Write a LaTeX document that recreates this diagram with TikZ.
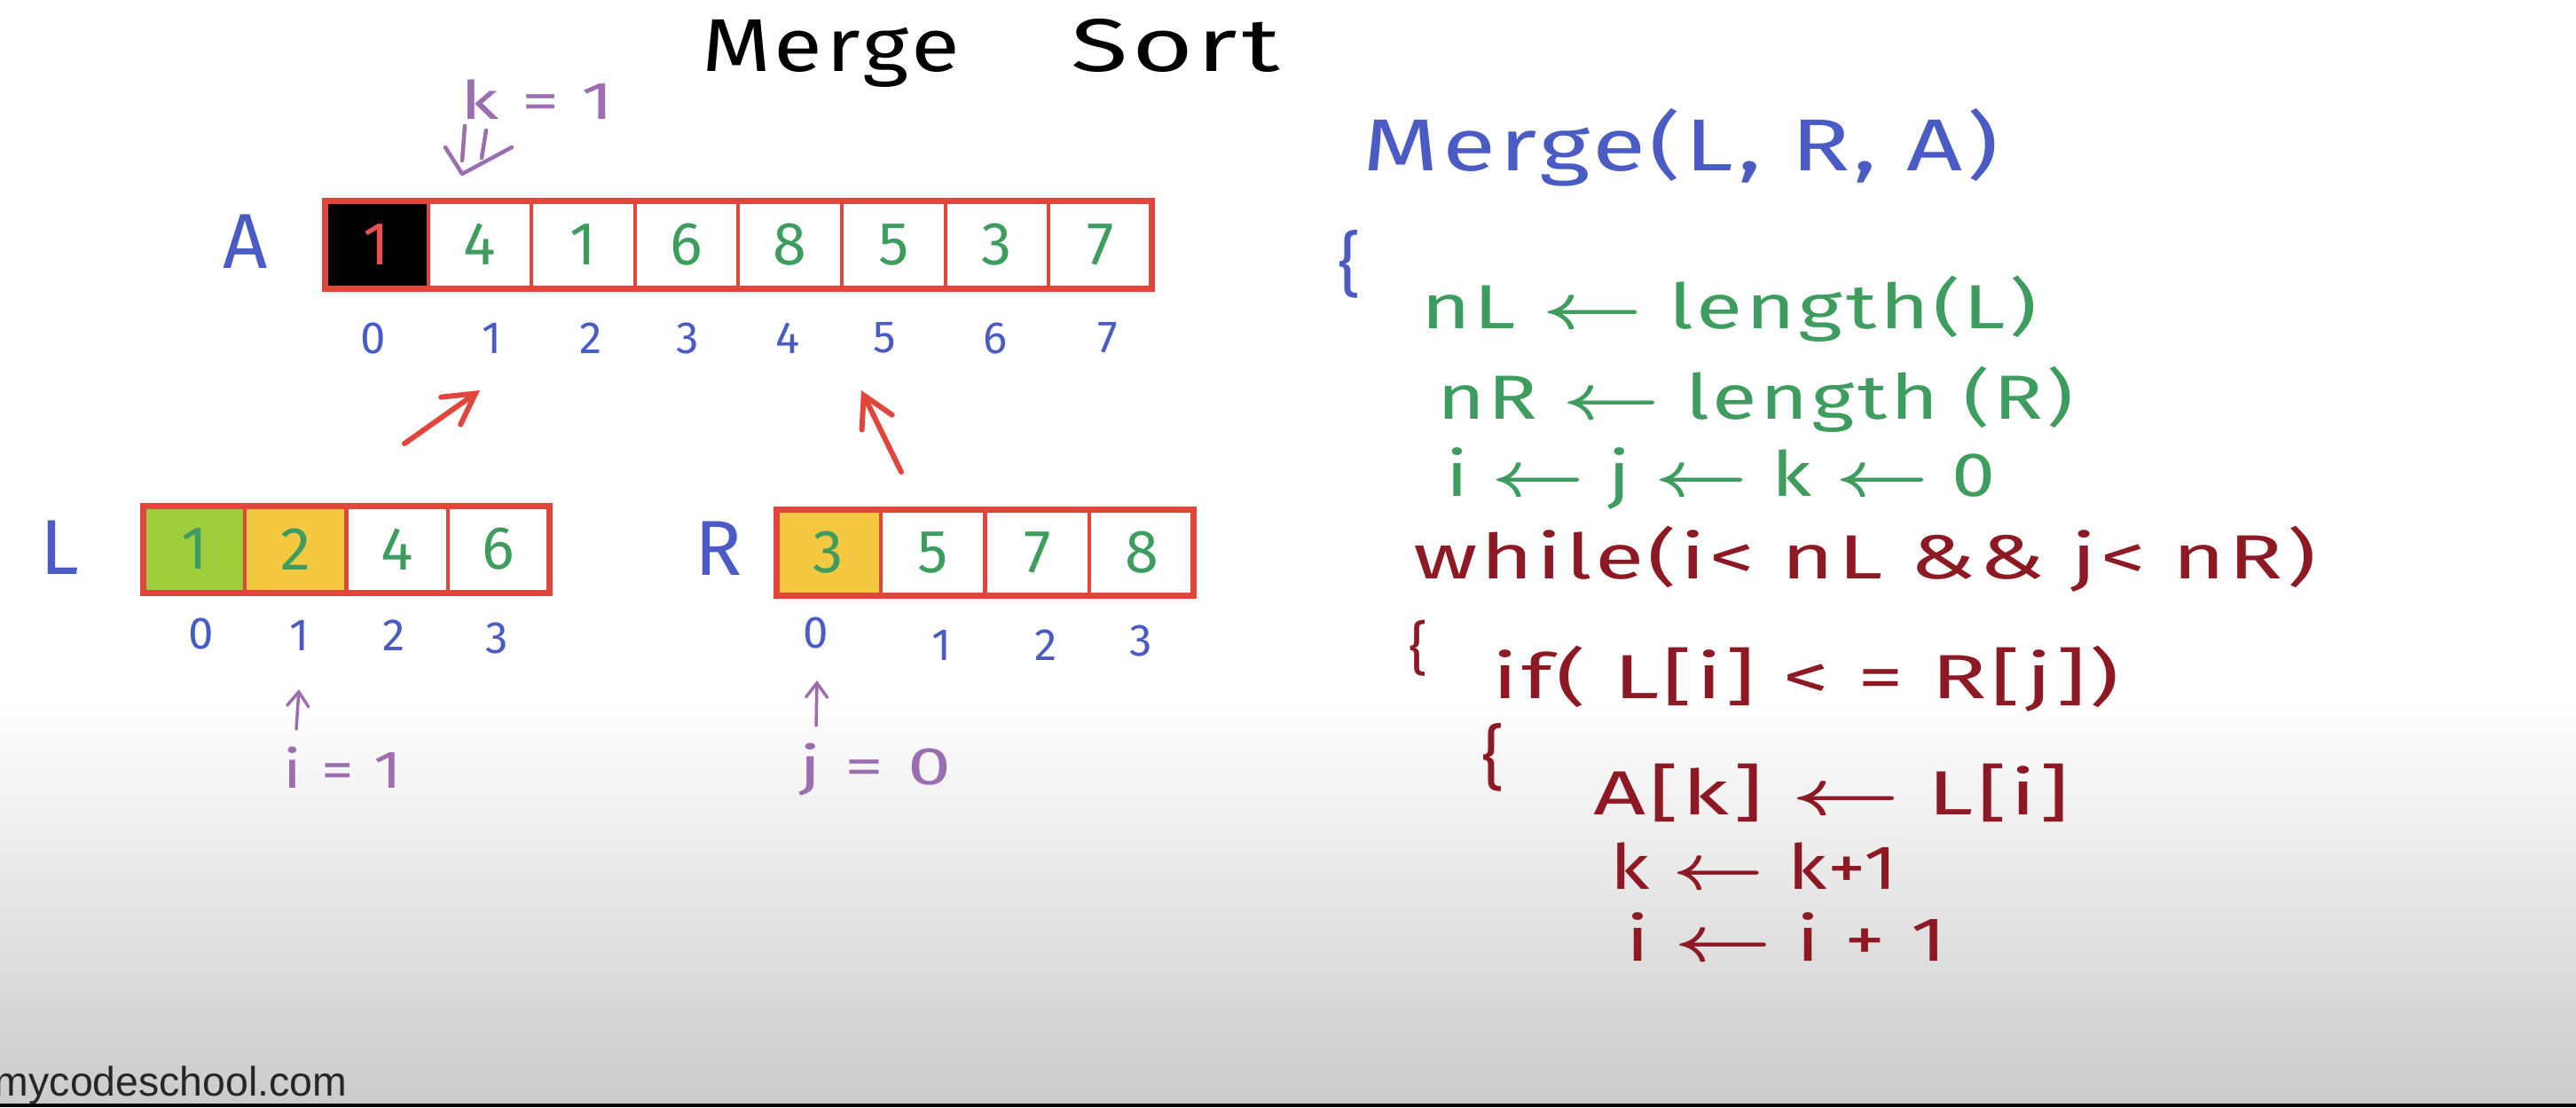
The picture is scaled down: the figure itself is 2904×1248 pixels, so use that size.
\documentclass[tikz,border=0pt]{standalone}
\usepackage{amsmath}
\usepackage{fontspec}
\usepackage{graphicx}
\usetikzlibrary{arrows.meta}
\setmainfont{Fira Sans}
\newfontfamily\hand{Fira Sans}[LetterSpace=4]
\newfontfamily\webfont{Liberation Sans}
\definecolor{cblue}{HTML}{4A5BC4}
\definecolor{cgreen}{HTML}{3E9C5E}
\definecolor{cred}{HTML}{E1463C}
\definecolor{cdred}{HTML}{8C1923}
\definecolor{cpurple}{HTML}{9B6EAF}
\definecolor{cyg}{HTML}{A0CD3C}
\definecolor{cyel}{HTML}{F5C841}
\definecolor{cone}{HTML}{E65050}
\definecolor{bggray}{HTML}{CBCBCB}
\newcommand\hwfit[2]{\resizebox{#1}{\height}{#2}}
\newcommand\larr{$\boldsymbol{\leftarrow}$}
\tikzset{
  hnode/.style={inner sep=0pt, outer sep=0pt},
  codeline/.style={hnode, anchor=base west, font=\hand\fontsize{20}{24}\selectfont},
  titlefont/.style={hnode, anchor=base west, font=\hand\fontsize{24}{28}\selectfont, text=black},
  cellbase/.style={draw=cred, line width=0.4mm, inner sep=0pt, outer sep=0pt,
    font=\hand\fontsize{19.5}{22}\selectfont, text=cgreen},
  cellA/.style={cellbase, minimum width=11.66mm, minimum height=9.9mm},
  cellL/.style={cellbase, minimum width=11.425mm, minimum height=9.8mm},
  cellR/.style={cellbase, minimum width=11.775mm, minimum height=9.7mm},
  frame/.style={draw=cred, line width=0.7mm},
  idx/.style={hnode, font=\hand\fontsize{14.5}{16}\selectfont, text=cblue},
  lbl/.style={hnode, font=\hand\fontsize{25}{28}\selectfont, text=cblue},
  ptr/.style={hnode, font=\hand\fontsize{17}{20}\selectfont, text=cpurple},
  bracenode/.style={hnode, font=\hand\fontsize{22.5}{26}\selectfont},
  redarrow/.style={draw=cred, line width=0.6mm, line cap=round,
    -{Straight Barb[length=3.4mm,width=3.8mm,line cap=round]}},
  purarrow/.style={draw=cpurple, line width=0.35mm, line cap=round,
    -{Straight Barb[length=1.6mm,width=2.4mm,line cap=round]}},
  purstroke/.style={draw=cpurple, line width=0.45mm, line cap=round, line join=round},
}
\begin{document}
\begin{tikzpicture}[x=0.1mm,y=-0.1mm]
\useasboundingbox (0,0) rectangle (2904,1248);
% background
\fill[white] (0,0) rectangle (2904,790);
\shade[top color=white, bottom color=bggray] (0,789) rectangle (2904,1244);
\fill[black] (0,1244) rectangle (2904,1248);

% title
\node[titlefont] (t1) at (791,80) {\hwfit{29.1mm}{Merge}};
\node[titlefont] (t2) at (1207,80) {\hwfit{23.6mm}{Sort}};

% k = 1 and double arrow
\node[ptr] (kval) at (606,112) {\hwfit{17.3mm}{k = 1}};
\coordinate (ks1a) at (524,142); \coordinate (ks1b) at (521,181);
\coordinate (ks2a) at (548,147); \coordinate (ks2b) at (543,178);
\coordinate (kh1) at (502,166); \coordinate (kh2) at (521,196); \coordinate (kh3) at (577,166);
\draw[purstroke] (ks1a) -- (ks1b);
\draw[purstroke] (ks2a) -- (ks2b);
\draw[purstroke] (kh1) -- (kh2) -- (kh3);

% array A
\node[lbl] (labA) at (277,272) {A};
\node[cellA, fill=black, text=cone] (a0) at (424.3,275.5) {1};
\node[cellA] (a1) at (540.9,275.5) {4};
\node[cellA] (a2) at (657.5,275.5) {1};
\node[cellA] (a3) at (774.1,275.5) {6};
\node[cellA] (a4) at (890.7,275.5) {8};
\node[cellA] (a5) at (1007.3,275.5) {5};
\node[cellA] (a6) at (1123.9,275.5) {3};
\node[cellA] (a7) at (1240.5,275.5) {7};
\draw[frame] (a0.north west) rectangle (a7.south east);
\node[idx] (ai0) at (421,381) {0};
\node[idx] (ai1) at (555,381) {1};
\node[idx] (ai2) at (666,381) {2};
\node[idx] (ai3) at (775,381) {3};
\node[idx] (ai4) at (888,381) {4};
\node[idx] (ai5) at (997,381) {5};
\node[idx] (ai6) at (1122,381) {6};
\node[idx] (ai7) at (1249,381) {7};

% red arrows
\coordinate (la1) at (456,500); \coordinate (la2) at (541,440);
\coordinate (ra1) at (1016,532); \coordinate (ra2) at (971,440);
\draw[redarrow] (la1) -- (la2);
\draw[redarrow] (ra1) -- (ra2);

% array L
\node[lbl] (labL) at (67,617) {L};
\node[cellL, fill=cyg] (l0) at (219.1,619) {1};
\node[cellL, fill=cyel] (l1) at (333.4,619) {2};
\node[cellL] (l2) at (447.6,619) {4};
\node[cellL] (l3) at (561.9,619) {6};
\draw[frame] (l0.north west) rectangle (l3.south east);
\node[idx] (li0) at (227,714) {0};
\node[idx] (li1) at (338,716) {1};
\node[idx] (li2) at (444,716) {2};
\node[idx] (li3) at (560,719) {3};

% array R
\node[lbl] (labR) at (810,618) {R};
\node[cellR, fill=cyel] (r0) at (933.9,622.5) {3};
\node[cellR] (r1) at (1051.6,622.5) {5};
\node[cellR] (r2) at (1169.4,622.5) {7};
\node[cellR] (r3) at (1287.1,622.5) {8};
\draw[frame] (r0.north west) rectangle (r3.south east);
\node[idx] (ri0) at (920,713) {0};
\node[idx] (ri1) at (1062,727) {1};
\node[idx] (ri2) at (1179,727) {2};
\node[idx] (ri3) at (1286,722) {3};

% pointers i and j
\coordinate (pi1) at (334,822); \coordinate (pi2) at (337,777);
\coordinate (pj1) at (920,818); \coordinate (pj2) at (921,767);
\draw[purarrow] (pi1) -- (pi2);
\draw[purarrow] (pj1) -- (pj2);
\node[ptr] (ival) at (386,865) {\hwfit{13.4mm}{i = 1}};
\node[ptr] (jval) at (987,868) {\hwfit{17.1mm}{j = 0}};

% code
\node[codeline, text=cblue, font=\hand\fontsize{23.6}{28}\selectfont] (c0) at (1536,192) {\hwfit{71.7mm}{Merge(L, R, A)}};
\node[bracenode, text=cblue] (b0) at (1521,298) {\{};
\node[codeline, text=cgreen] (c1) at (1602,370) {\hwfit{69.4mm}{nL \larr{} length(L)}};
\node[codeline, text=cgreen] (c2) at (1620,472) {\hwfit{71.7mm}{nR \larr{} length (R)}};
\node[codeline, text=cgreen] (c3) at (1630,559) {\hwfit{62.0mm}{i \larr{} j \larr{} k \larr{} 0}};
\node[codeline, text=cdred] (c4) at (1593,652) {\hwfit{101.8mm}{while(i< nL \&\& j< nR)}};
\node[bracenode, text=cdred, font=\hand\fontsize{18.5}{22}\selectfont] (b1) at (1599,731) {\{};
\node[codeline, text=cdred] (c5) at (1682,787) {\hwfit{70.7mm}{if( L[i] < = R[j])}};
\node[bracenode, text=cdred] (b2) at (1683,854) {\{};
\node[codeline, text=cdred] (c6) at (1796,918) {\hwfit{53.7mm}{A[k] \larr{} L[i]}};
\node[codeline, text=cdred] (c7) at (1815,1002) {\hwfit{32.4mm}{k \larr{} k+1}};
\node[codeline, text=cdred] (c8) at (1833,1083) {\hwfit{36.1mm}{i \larr{} i + 1}};

% watermark
\node[hnode, anchor=base west, font=\webfont\fontsize{13.2}{15}\selectfont, text=black!85] (web) at (-6,1235) {mycodeschool.com};
\end{tikzpicture}
\end{document}
